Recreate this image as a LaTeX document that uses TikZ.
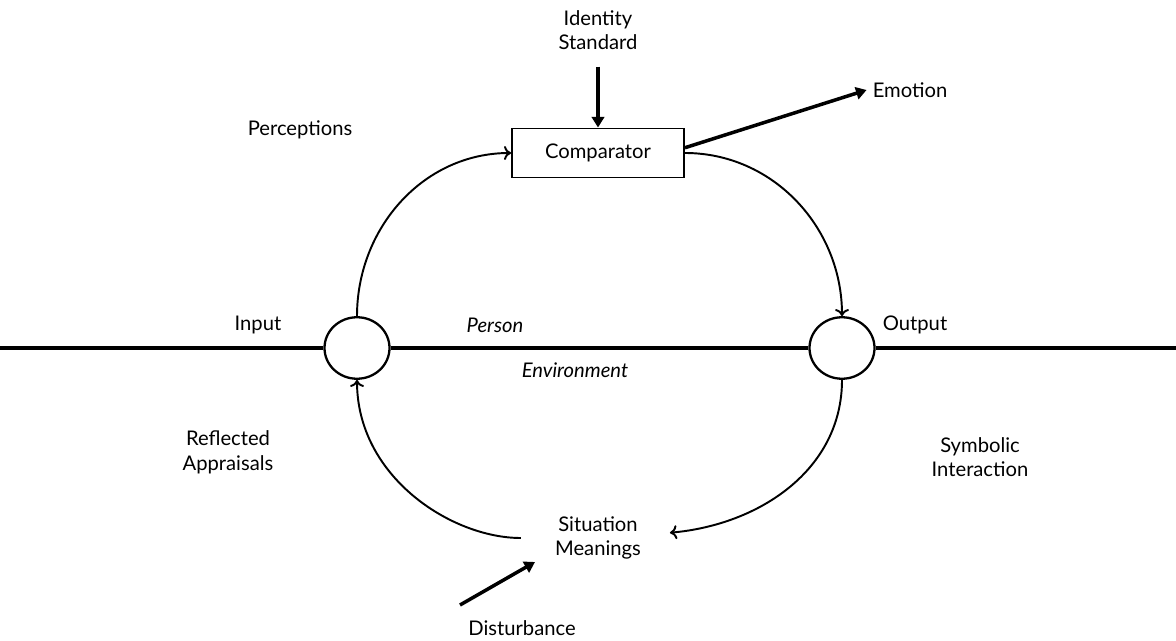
\documentclass[tikz,border=0pt]{standalone}
\usepackage{fontspec}
\setmainfont{Lato}
\usetikzlibrary{shapes.geometric,arrows.meta}

\begin{document}
\begin{tikzpicture}[x=0.02cm,y=-0.02cm,
  every node/.style={font=\fontsize{11.5}{14}\selectfont, align=center},
  junction/.style={ellipse, draw, line width=1.3pt, minimum width=37pt, minimum height=35pt, inner sep=0pt},
  fbarc/.style={line width=1.1pt, -{To[length=4pt,width=8pt]}},
  thickarrow/.style={line width=2pt, -{Triangle[length=6pt,width=7pt]}}]
 \useasboundingbox (0,0) rectangle (1176,641);
 % loop around the comparator
 \node (ids) at (598,30) {Identity\\Standard};
 \node (comp) [draw, line width=1pt, minimum width=98pt, minimum height=28pt] at (598,153) {Comparator};
 \node (emo) at (910,90) {Emotion};
 \node (inp) [junction] at (357,348) {};
 \node (outp) [junction] at (842,348) {};
 \node (sit) at (598,538) {Situation\\Meanings};
 \node (dist) at (522,628) {Disturbance};
 \coordinate (w) at (0,348);
 \coordinate (e) at (1176,348);
 \coordinate (dtail) at (460,605);
 \coordinate (dtip) at (535,562);
 % labels
 \node (perc) at (300,130) {Perceptions};
 \node (inlbl) at (258,325) {Input};
 \node (outlbl) at (915,325) {Output};
 \node (pers) at (495,325) {\itshape Person};
 \node (env) at (575,370) {\itshape Environment};
 \node (refl) at (228,452) {Reflected\\Appraisals};
 \node (symb) at (980,457) {Symbolic\\Interaction};
 % connectors
 \draw[line width=1.9pt] (w) -- (inp) -- (outp) -- (e);
 \draw[thickarrow, shorten <=6pt] (ids) -- (comp);
 \draw[thickarrow] ([yshift=3pt]comp.east) -- (emo.west);
 \draw[fbarc] (inp.north) to[out=90,in=180] (comp.west);
 \draw[fbarc] (comp.east) to[out=0,in=90] (outp.north);
 \draw[fbarc] (outp.south) to[out=270,in=5] ([xshift=13pt,yshift=3pt]sit.east);
 \draw[fbarc, shorten <=16pt] (sit.west) to[out=180,in=270] (inp.south);
 \draw[thickarrow] (dtail) -- (dtip);
\end{tikzpicture}
\end{document}
